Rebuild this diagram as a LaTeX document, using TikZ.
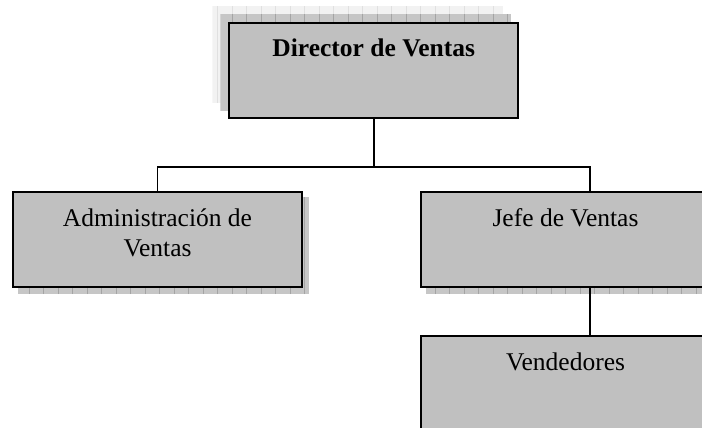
\documentclass[tikz,border=0pt]{standalone}
\usepackage{fontspec}
\setmainfont{Liberation Serif}
\usetikzlibrary{backgrounds,calc}
\definecolor{boxgrey}{HTML}{C0C0C0}
\definecolor{shadegrey}{HTML}{C6C6C6}
\definecolor{shadeline}{HTML}{A4A4A4}
\definecolor{paleshade}{HTML}{F2F2F2}
\definecolor{paleline}{HTML}{E0E0E0}
\tikzset{
  orgbox/.style={draw, rectangle, line width=2pt, fill=boxgrey, inner sep=0pt,
    minimum width=289pt, text height=34pt, text depth=61pt, align=center,
    font=\fontsize{25.5}{30}\selectfont},
  twolines/.style={text height=64pt, text depth=31pt},
  link/.style={line width=1.6pt},
}
% shadow with a grid on it: corner, corner, fill, grid colour
\newcommand{\gridshade}[4]{%
  \begin{scope}
    \clip (#1) rectangle (#2);
    \fill[#3] (#1) rectangle (#2);
    \draw[#4, line width=0.6pt, step=14.5] (#1) grid (#2);
  \end{scope}}
\begin{document}
\begin{tikzpicture}[x=1pt, y=-1pt]
\useasboundingbox (0,0) rectangle (702,428);
\clip (0,0) rectangle (702,428);
\node (dir) [orgbox] at (373.75,70.5) {\bfseries Director de Ventas};
\node (adm) [orgbox, twolines] at (157.5,239.5) {Administración de\\Ventas};
\node (jef) [orgbox, node distance=408pt, right of=adm] {Jefe de Ventas};
\node (ven) [orgbox, node distance=144pt, below of=jef] {Vendedores};
\coordinate (bus) at (0,167);
\coordinate (tap) at (590,0);
\begin{pgfonlayer}{background}
  \gridshade{$(dir.north west)+(-16,-16)$}{$(dir.south east)+(-16,-16)$}{paleshade}{paleline}
  \gridshade{$(dir.north west)+(-8,-8)$}{$(dir.south east)+(-8,-8)$}{shadegrey}{shadeline}
  \gridshade{$(adm.north west)+(6,6)$}{$(adm.south east)+(6,6)$}{shadegrey}{shadeline}
  \gridshade{$(jef.north west)+(6,6)$}{$(jef.south east)+(6,6)$}{shadegrey}{shadeline}
\end{pgfonlayer}
\draw [link] (dir.south) -- (dir.south |- bus) -| (adm.north);
\draw [link] (dir.south |- bus) -| (jef.north -| tap);
\draw [link] (jef.south -| tap) -- (ven.north -| tap);
\end{tikzpicture}
\end{document}
